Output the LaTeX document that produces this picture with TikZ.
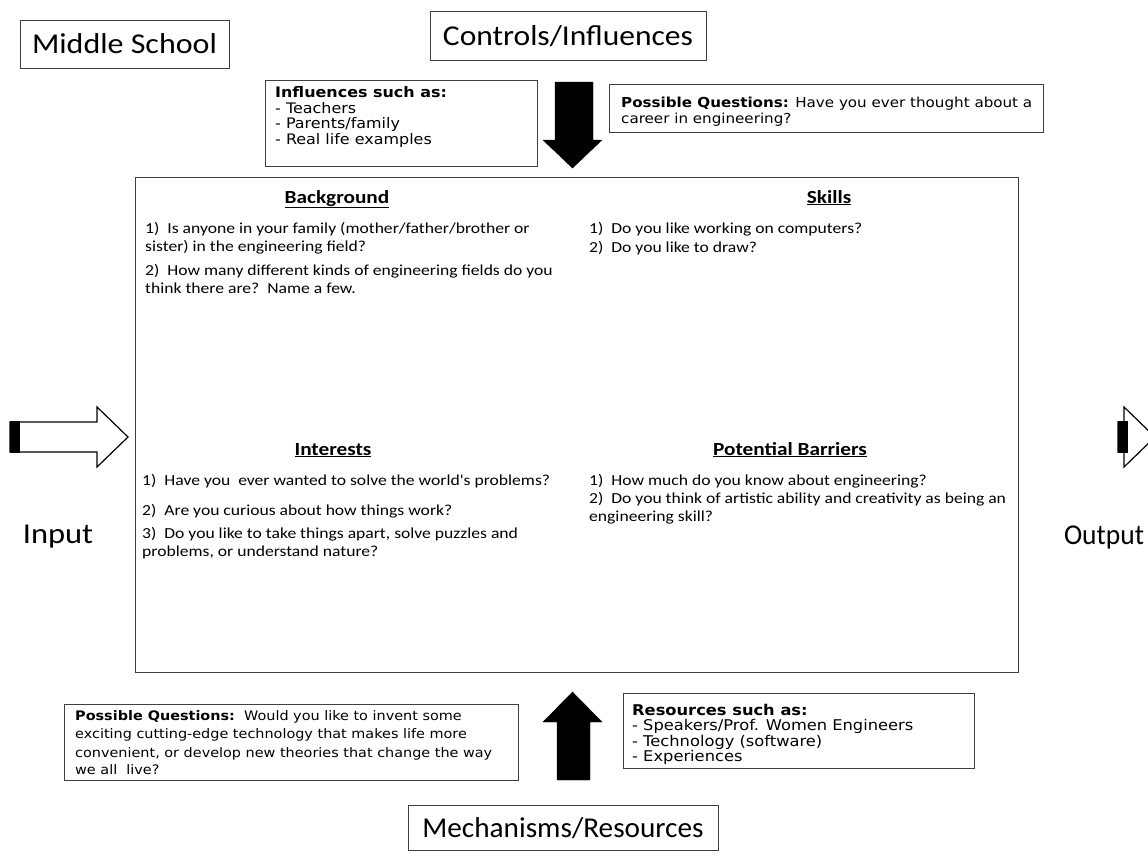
\documentclass[tikz,border=0pt]{standalone}
\usepackage{fontspec}
\setmainfont{Carlito}
\newfontfamily\calwide{Carlito}[FakeStretch=1.15]
\newfontfamily\tahwide{DejaVu Sans}[FakeStretch=1.1]
\begin{document}
\begin{tikzpicture}[x=1pt,y=-1pt,
  frame/.style={draw=black!75,line width=1pt},
  hdr/.style={font=\fontsize{25}{30}\selectfont,inner sep=0pt},
  bodyt/.style={font=\calwide\fontsize{15.3}{18}\selectfont,anchor=base west,inner sep=0pt},
  headt/.style={font=\calwide\fontsize{18.5}{22}\selectfont\bfseries,anchor=base,inner sep=0pt},
  sidet/.style={font=\tahwide\fontsize{14.5}{15.5}\selectfont,anchor=base west,inner sep=0pt},
  sider/.style={sidet,font=\tahwide\fontsize{14.8}{15.5}\selectfont},
  sideq/.style={sidet,font=\tahwide\fontsize{13.75}{15.5}\selectfont},
  sideb/.style={sidet,font=\tahwide\fontsize{13.1}{15.5}\selectfont},
  blk/.style={fill=black,draw=black},
  hollow/.style={fill=white,draw=black,line width=1.2pt}]
\useasboundingbox (0,0) rectangle (1148,855);
\clip (0,0) rectangle (1148,855);
% header boxes
\draw[frame] (20,20) rectangle (229,68);
\node[hdr] (ms) at (124.5,44) {\scalebox{1.28}[1.15]{Middle School}};
\draw[frame] (430,11) rectangle (706,60);
\node[hdr] (ci) at (568,36) {\scalebox{1.26}[1.15]{Controls/Influences}};
\draw[frame] (408,805) rectangle (718,850);
\node[hdr] (mr) at (563,828) {\scalebox{1.17}[1.15]{Mechanisms/Resources}};
\node[hdr] (inp) at (58,537) {\scalebox{1.3}[1.15]{Input}};
\node[hdr] (outp) at (1104,537) {\scalebox{1.1}[1.15]{Output}};
% main box
\draw[frame] (135,177) rectangle (1018,672);
% Background
\node[headt] (bg) at (337,203) {\underline{Background}};
\node[bodyt] (b1) at (145,233) {1)\ \ Is anyone in your family (mother/father/brother or};
\node[bodyt] (b2) at (145,251) {sister) in the engineering field?};
\node[bodyt] (b3) at (145,275) {2)\ \ How many different kinds of engineering fields do you};
\node[bodyt] (b4) at (145,293) {think there are?\ \ Name a few.};
% Skills
\node[headt] (sk) at (829,203) {\underline{Skills}};
\node[bodyt] (s1) at (589,233) {1)\ \ Do you like working on computers?};
\node[bodyt] (s2) at (589,252) {2)\ \ Do you like to draw?};
% Interests
\node[headt] (in) at (333,455) {\underline{Interests}};
\node[bodyt] (i1) at (142,485) {1)\ \ Have you\ \ ever wanted to solve the world's problems?};
\node[bodyt] (i2) at (142,515) {2)\ \ Are you curious about how things work?};
\node[bodyt] (i3) at (142,538) {3)\ \ Do you like to take things apart, solve puzzles and};
\node[bodyt] (i4) at (142,556) {problems, or understand nature?};
% Barriers
\node[headt] (pb) at (790,455) {\underline{Potential Barriers}};
\node[bodyt] (p1) at (589,485) {1)\ \ How much do you know about engineering?};
\node[bodyt] (p2) at (589,503) {2)\ \ Do you think of artistic ability and creativity as being an};
\node[bodyt] (p3) at (589,521) {engineering skill?};
% Influences box
\draw[frame] (265,80) rectangle (537,166);
\node[sidet] (f1) at (275,97) {\textbf{Influences such as:}};
\node[sidet] (f2) at (275,113) {- Teachers};
\node[sidet] (f3) at (275,128) {- Parents/family};
\node[sidet] (f4) at (275,144) {- Real life examples};
% top possible questions
\draw[frame] (609,84) rectangle (1043,132);
\node[sideq] (q1) at (621,107) {\textbf{Possible Questions:} Have you ever thought about a};
\node[sideq] (q2) at (621,123) {career in engineering?};
% bottom-left box
\draw[frame] (64,704) rectangle (518,780);
\node[sideb] (r1) at (75,720) {\textbf{Possible Questions:}\ \ Would you like to invent some};
\node[sideb] (r2) at (75,738) {exciting cutting-edge technology that makes life more};
\node[sideb] (r3) at (75,757) {convenient, or develop new theories that change the way};
\node[sideb] (r4) at (75,774) {we all\ \ live?};
% resources box
\draw[frame] (623,693) rectangle (974,768);
\node[sider] (e1) at (632,715) {\textbf{Resources such as:}};
\node[sider] (e2) at (632,730.5) {- Speakers/Prof. Women Engineers};
\node[sider] (e3) at (632,746) {- Technology (software)};
\node[sider] (e4) at (632,761.5) {- Experiences};
% down arrow
\fill[blk] (555,82) -- (593,82) -- (593,140) -- (602,140) -- (572.5,168) -- (543,140) -- (555,140) -- cycle;
% up arrow
\fill[blk] (557,780) -- (590,780) -- (590,722) -- (602,722) -- (572.5,692) -- (543,722) -- (557,722) -- cycle;
% input arrow
\draw[hollow] (10,422) -- (97,422) -- (97,407) -- (128,437) -- (97,467) -- (97,452) -- (10,452) -- cycle;
\fill (10,421.4) rectangle (20,452.6);
% output arrow
\draw[hollow] (1118,422) -- (1124,422) -- (1124,407) -- (1155,437) -- (1124,467) -- (1124,452) -- (1118,452) -- cycle;
\fill (1118,421.4) rectangle (1128,452.6);
\end{tikzpicture}
\end{document}
